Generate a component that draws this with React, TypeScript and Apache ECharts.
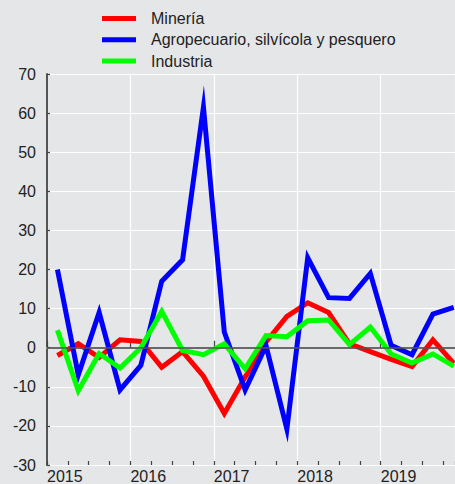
import React, { useEffect, useRef } from "react";
import * as echarts from "echarts";

const quarters = [
  "2015-Q1", "2015-Q2", "2015-Q3", "2015-Q4",
  "2016-Q1", "2016-Q2", "2016-Q3", "2016-Q4",
  "2017-Q1", "2017-Q2", "2017-Q3", "2017-Q4",
  "2018-Q1", "2018-Q2", "2018-Q3", "2018-Q4",
  "2019-Q1", "2019-Q2", "2019-Q3", "2019-Q4",
];

const mineria = [-2, 1, -2.5, 2, 1.6, -5, -1, -7.3, -16.8, -7.5, 1.5, 8, 11.5, 9, 1, -1, -3, -4.8, 2, -4];
const agro = [20, -7, 9, -10.8, -4.5, 17, 22.5, 61.5, 4, -10.8, 0.5, -20.8, 23, 12.8, 12.6, 19, 0.6, -1.8, 8.6, 10.3];
const industria = [4.5, -11, -1.5, -5.2, 0, 9.3, -0.7, -1.8, 1, -5.4, 3.1, 2.8, 6.9, 7.1, 0.8, 5.3, -1.6, -3.9, -1.6, -4.7];

const seriesNames = ["Minería", "Agropecuario, silvícola y pesquero", "Industria"];
const seriesColors = ["#ff0000", "#0000ff", "#00ff00"];
const yTicks = { min: -30, max: 70, step: 10 };

// mid-quarter position on a decimal-year axis
const quarterPos = (q: string) => {
  const [y, qq] = q.split("-Q");
  return Number(y) + (Number(qq) - 0.5) * 0.25;
};

const FONT = "'Liberation Sans', Arial, sans-serif";

export default function App() {
  const ref = useRef<HTMLDivElement>(null);
  useEffect(() => {
    if (!ref.current) return;
    const chart = echarts.init(ref.current, undefined, { renderer: "svg" });
    const allData = [mineria, agro, industria];
    const xMin = 2015;
    const xMax = 2019.89;
    chart.setOption({
      animation: false,
      backgroundColor: "#e5e6e8",
      textStyle: { fontFamily: FONT },
      legend: {
        orient: "vertical",
        left: 102,
        top: 9.5,
        padding: 0,
        itemGap: 3.3,
        itemWidth: 34,
        itemHeight: 5,
        icon: "rect",
        data: seriesNames,
        textStyle: {
          fontSize: 16,
          fontFamily: FONT,
          color: "#222",
          lineHeight: 18,
          padding: [0, 0, 0, 10],
        },
      },
      grid: { left: 47, right: 0, top: 74, bottom: 17, containLabel: false },
      xAxis: [
        {
          type: "value",
          min: xMin,
          max: xMax,
          interval: 1,
          axisLine: { show: true, lineStyle: { color: "#a8a8a8", width: 2 } },
          axisTick: { show: true, inside: true, length: 7, lineStyle: { color: "#444", width: 1.2 } },
          axisLabel: {
            show: true,
            showMaxLabel: false,
            formatter: (v: number) => (Number.isInteger(v) ? String(v) : ""),
            align: "left",
            fontSize: 16,
            fontFamily: FONT,
            color: "#222",
            margin: 3,
          },
          splitLine: { show: true, lineStyle: { color: "#ffffff", width: 1.2 } },
        },
        {
          type: "value",
          min: xMin,
          max: xMax,
          interval: 0.25,
          position: "bottom",
          axisLine: { show: false },
          axisTick: { show: true, inside: true, length: 4, lineStyle: { color: "#444", width: 1.2 } },
          axisLabel: { show: false },
          splitLine: { show: false },
        },
      ],
      yAxis: {
        type: "value",
        min: yTicks.min,
        max: yTicks.max,
        interval: yTicks.step,
        axisLine: { show: true, lineStyle: { color: "#555", width: 2 } },
        axisTick: { show: true, inside: true, length: 3, lineStyle: { color: "#444", width: 1.2 } },
        axisLabel: { fontSize: 16, fontFamily: FONT, color: "#222", margin: 11 },
        splitLine: { show: true, lineStyle: { color: "#ffffff", width: 1.2 } },
      },
      series: [
        {
          type: "line",
          name: "__zero",
          data: [[xMin, 0]],
          showSymbol: false,
          symbol: "none",
          lineStyle: { opacity: 0 },
          silent: true,
          z: 1,
          markLine: {
            silent: true,
            symbol: "none",
            label: { show: false },
            lineStyle: { color: "#555", width: 1.6, type: "solid" },
            data: [{ yAxis: 0 }],
          },
        },
        ...seriesNames.map((name, i) => {
          const pts = quarters.map((q, k) => [quarterPos(q), allData[i][k]]);
          return {
            type: "custom",
            name,
            xAxisIndex: 0,
            yAxisIndex: 0,
            data: pts,
            encode: { x: 0, y: 1 },
            silent: true,
            itemStyle: { color: seriesColors[i] },
            z: 2 + i,
            renderItem: (params: any, api: any) => {
              if (params.dataIndex !== 0) return null;
              const coords = pts.map((p) => api.coord(p));
              return {
                type: "polyline",
                shape: { points: coords },
                style: {
                  stroke: seriesColors[i],
                  fill: "none",
                  lineWidth: 5,
                  lineJoin: "miter",
                  miterLimit: 12,
                },
              };
            },
          };
        }),
      ],
    });
    return () => chart.dispose();
  }, []);
  return (
    <div
      ref={ref}
      style={{ position: "fixed", left: 0, top: 0, width: 455, height: 484 }}
    />
  );
}
